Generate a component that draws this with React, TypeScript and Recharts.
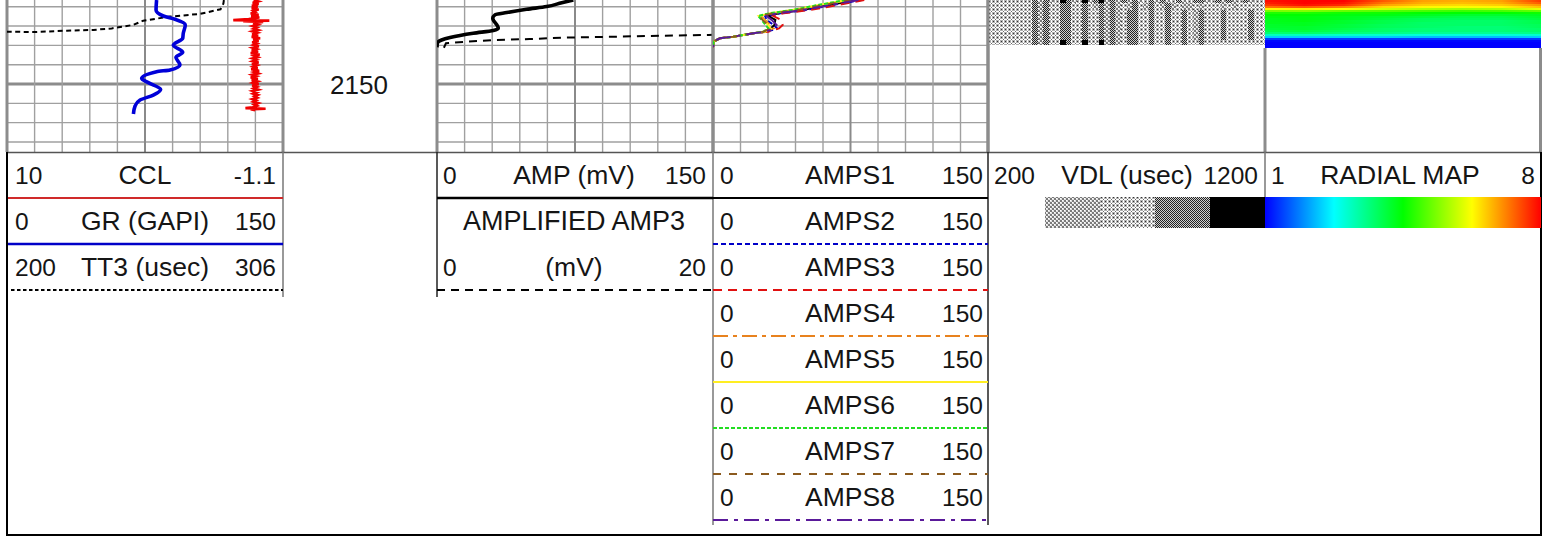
import React from "react";
import { LineChart, Line, XAxis, YAxis, ReferenceLine, BarChart, Bar, Cell } from "recharts";

// ---------- depth window and grid ----------
const depthDomain: [number, number] = [2106.5, 2185.2];
const depthGrid = [2110, 2120, 2130, 2140, 2150, 2160, 2170, 2180];
const divisionGrid = [1, 2, 3, 4, 5, 6, 7, 8, 9];

// ---------- track 1 ----------
const grDepth = [2106.5, 2111.7, 2114.8, 2116.5, 2119.4, 2123.7, 2126.3, 2129.8, 2133.6, 2136.2, 2140.2, 2142.7, 2143.6, 2147.1, 2149.3, 2152.8, 2155.7, 2158.3, 2161.4, 2165.5];
const grValue = [81.3, 81.0, 85.0, 91.3, 96.9, 95.8, 95.5, 90.4, 95.5, 91.8, 94.0, 88.6, 81.3, 73.2, 76.8, 83.5, 79.5, 72.3, 69.6, 68.7];
const ttDepth = [2106.5, 2108.4, 2111.3, 2113.7, 2115.1, 2117.2, 2119.4, 2121.2, 2122.0, 2122.4, 2123.1, 2122.9];
const ttValue = [283.3, 283.1, 282.0, 274.1, 262.6, 252.3, 248.5, 240.2, 233.2, 222.9, 210.1, 200];
const cclDepth = [2106.5, 2107.2, 2107.9, 2108.6, 2109.3, 2110.0, 2110.7, 2111.4, 2112.1, 2112.8, 2113.5, 2114.2, 2114.9, 2115.6, 2116.3, 2116.9, 2117.2, 2117.5, 2117.9, 2118.6, 2119.3, 2120.0, 2120.7, 2121.4, 2122.1, 2122.8, 2123.5, 2124.2, 2124.9, 2125.6, 2126.3, 2127.0, 2127.7, 2128.4, 2129.1, 2129.8, 2130.5, 2131.2, 2131.9, 2132.6, 2133.3, 2134.0, 2134.7, 2135.4, 2136.1, 2136.8, 2137.5, 2138.2, 2138.9, 2139.6, 2140.3, 2141.0, 2141.7, 2142.4, 2143.1, 2143.8, 2144.5, 2145.2, 2145.9, 2146.6, 2147.3, 2148.0, 2148.7, 2149.4, 2150.1, 2150.8, 2151.5, 2152.2, 2152.9, 2153.6, 2154.3, 2155.0, 2155.7, 2156.4, 2157.1, 2157.8, 2158.5, 2159.2, 2159.9, 2160.6, 2161.3, 2162.0, 2162.5, 2162.8, 2163.1, 2163.6];
const cclValue = [0.08, -0.1, 0.12, -0.12, 0.15, -0.08, 0.16, -0.12, 0.1, 0.02, 0.2, -0.12, 0.18, -0.15, 0.28, 0.9, -0.55, 0.5, -0.3, 0.1, -0.08, 0.12, -0.05, 0.08, -0.1, 0.13, -0.06, 0.14, -0.1, 0.16, -0.18, 0.1, -0.12, 0.14, -0.05, 0.08, -0.13, 0.12, -0.04, 0.16, -0.1, 0.2, -0.16, 0.06, -0.08, 0.13, -0.03, 0.12, -0.12, 0.15, -0.05, 0.1, -0.08, 0.18, -0.14, 0.06, -0.1, 0.14, -0.02, 0.2, -0.09, 0.16, -0.07, 0.1, -0.12, 0.14, -0.05, 0.08, -0.1, 0.12, -0.04, 0.1, -0.08, 0.05, -0.06, 0.13, -0.02, 0.09, -0.1, 0.06, -0.05, 0.12, 0.41, -0.4, 0.2, 0.02];

// ---------- track 2 ----------
const ampDepth = [2106.5, 2107.9, 2109.9, 2111.3, 2113.0, 2114.2, 2115.9, 2121.1, 2122.3, 2123.7, 2125.9, 2127.2, 2128.9, 2131.0];
const ampValue = [74.1, 67.8, 59.6, 48.7, 37.9, 31.5, 30.3, 33.3, 30.6, 19.7, 7.1, 2.5, 0.2, 0];
const amp3Depth = [2131.2, 2128.9, 2128.2, 2127.2, 2126.7, 2126.0, 2125.5, 2125.0, 2124.6, 2124.5];
const amp3Value = [0.5, 0.65, 1.9, 4.3, 6.7, 9.2, 12.8, 16.4, 19.7, 20];

// ---------- track 3 ----------
const ampsDepth = [2106.5, 2109.0, 2111.7, 2113.4, 2114.8, 2116.8, 2119.4, 2121.2, 2122.9, 2123.7, 2125.5, 2126.3, 2128.0, 2131.0];
const amps1 = [78.4, 64.2, 48.6, 36.0, 30.2, 34.0, 33.5, 31.5, 28.4, 22.0, 11.1, 3.8, 0.4, 0];
const amps2 = [81.1, 66.0, 50.4, 36.5, 28.4, 29.3, 33.0, 35.0, 29.3, 22.0, 11.1, 3.8, 0.4, 0];
const amps3 = [82.5, 69.0, 52.4, 38.5, 33.0, 37.0, 38.0, 36.0, 30.2, 22.0, 11.1, 3.8, 0.4, 0];
const amps4 = [74.2, 59.6, 44.2, 32.0, 26.0, 28.4, 31.1, 33.0, 28.4, 22.0, 11.1, 3.8, 0.4, 0];
const amps5 = [73.0, 58.6, 43.2, 31.5, 25.0, 27.5, 30.0, 31.5, 28.4, 22.0, 11.1, 3.8, 0.4, 0];
const amps6 = [72.4, 57.8, 43.0, 30.6, 24.6, 26.5, 28.6, 30.2, 27.5, 22.0, 11.1, 3.8, 0.4, 0];
const amps7 = [75.6, 61.1, 46.0, 32.9, 25.2, 27.0, 30.2, 31.1, 27.5, 22.0, 11.1, 3.8, 0.4, 0];
const amps8 = [79.3, 64.7, 49.3, 35.0, 29.3, 32.0, 34.7, 32.9, 28.9, 22.0, 11.1, 3.8, 0.4, 0];
const ampsSeries = [amps1, amps2, amps3, amps4, amps5, amps6, amps7, amps8];
const ampsColors = ["#000000", "#0000c8", "#e01010", "#e8821e", "#ffee22", "#22dd22", "#8b5a1e", "#5a1a9a"];
const ampsDashes = [undefined, "5 3", "9 6", "15 5 4 5", undefined, "4 2", "8 8", "15 6 4 6"];

// ---------- track 4: variable density raster ----------
const vdlRowThickness = [1.6, 3.6, 15.5, 2.6];
const vdlRow0 = [2,2,2,2,2,2,2,2,3,1,3,1,2,4,3,1,2,4,1,3,4,1,3,1,3,1,3,1,2,3,1,3,1,2,3,1,2,3,3,1,2,3,1,3,1,2,3,1,2,2];
const vdlRow1 = [2,2,2,2,2,2,2,2,3,1,3,2,2,3,3,2,2,3,2,1,3,1,3,1,2,1,3,2,1,3,2,1,3,1,2,1,1,2,1,2,2,2,1,2,1,2,2,2,2,2];
const vdlRow2 = [2,2,2,2,2,2,2,2,3,1,3,2,2,3,3,2,2,3,2,2,3,1,3,1,2,3,3,2,2,3,2,2,3,2,2,3,2,1,3,2,2,2,3,2,2,2,2,3,2,2];
const vdlRow3 = [2,2,2,2,2,2,2,2,3,1,3,2,2,4,3,2,2,4,2,2,4,1,3,1,2,3,3,2,2,3,2,2,3,2,2,3,2,2,3,2,2,2,2,2,2,2,2,2,2,2];
const vdlRows = [vdlRow0, vdlRow1, vdlRow2, vdlRow3];
const vdlTable = vdlRow0.map((_, i) => ({ bin: i, r0: vdlRowThickness[0], r1: vdlRowThickness[1], r2: vdlRowThickness[2], r3: vdlRowThickness[3] }));
const vdlFills = ["#ffffff", "url(#vdl1)", "url(#vdl2)", "url(#vdl3)", "#000000"];

// ---------- track 5: radial map, one row of azimuth samples per depth step ----------
const radialRows = [
  [7.9, 8, 8, 7.4, 6.9, 6.8, 6.9, 7.6],
  [7.8, 8, 7.9, 7.2, 6.8, 6.7, 6.8, 7.4],
  [7.6, 7.9, 7.7, 6.9, 6.6, 6.5, 6.6, 7.0],
  [7.2, 7.4, 7.1, 6.5, 6.3, 6.2, 6.3, 6.7],
  [6.3, 6.4, 6.3, 5.9, 5.7, 5.6, 5.7, 6.1],
  [5.3, 5.4, 5.2, 5.1, 5.0, 4.9, 5.0, 5.2],
  [4.7, 4.7, 4.6, 4.6, 4.5, 4.5, 4.5, 4.6],
  [4.5, 4.5, 4.4, 4.4, 4.3, 4.2, 4.2, 4.3],
  [4.4, 4.4, 4.3, 4.2, 4.1, 4.0, 4.0, 4.2],
  [4.3, 4.4, 4.3, 4.1, 3.9, 3.9, 3.9, 4.1],
  [4.3, 4.4, 4.2, 4.0, 3.9, 3.8, 3.8, 4.0],
  [4.3, 4.3, 4.2, 4.0, 3.8, 3.8, 3.8, 4.0],
  [4.2, 4.3, 4.1, 3.9, 3.8, 3.8, 3.8, 3.9],
  [4.2, 4.2, 4.1, 3.9, 3.8, 3.7, 3.7, 3.9],
  [4.1, 4.2, 4.0, 3.8, 3.7, 3.7, 3.7, 3.8],
  [4.0, 4.1, 3.9, 3.8, 3.7, 3.7, 3.7, 3.8],
  [3.7, 3.8, 3.7, 3.6, 3.5, 3.5, 3.5, 3.6],
  [3.2, 3.2, 3.1, 3.1, 3.0, 3.0, 3.0, 3.1],
  [2.4, 2.4, 2.4, 2.4, 2.3, 2.3, 2.3, 2.4],
  [1.4, 1.4, 1.4, 1.4, 1.4, 1.4, 1.4, 1.4],
  [1.05, 1.05, 1.05, 1.05, 1.05, 1.05, 1.05, 1.05],
  [1, 1, 1, 1, 1, 1, 1, 1],
  [1, 1, 1, 1, 1, 1, 1, 1],
  [1, 1, 1, 1, 1, 1, 1, 1],
];
const radialTable = radialRows.map((_, i) => ({ row: i, span: 360 }));
const rampStops = [{ v: 1, c: [0, 0, 255] }, { v: 2.75, c: [0, 255, 255] }, { v: 4.5, c: [0, 255, 0] }, { v: 6.25, c: [255, 255, 0] }, { v: 8, c: [255, 0, 0] }];
function colorOf(v: number) {
  for (let i = 0; i < rampStops.length - 1; i++) {
    const a = rampStops[i], b = rampStops[i + 1];
    if (v <= b.v) {
      const t = (v - a.v) / (b.v - a.v);
      const m = a.c.map((x, k) => Math.round(x + (b.c[k] - x) * t));
      return `rgb(${m[0]},${m[1]},${m[2]})`;
    }
  }
  return "rgb(255,0,0)";
}

// ---------- header texts ----------
const track1Header = [["10", "CCL", "-1.1"], ["0", "GR (GAPI)", "150"], ["200", "TT3 (usec)", "306"]];
const track2Header = [["0", "AMP (mV)", "150"], ["", "AMPLIFIED AMP3", ""], ["0", "(mV)", "20"]];
const track3Header = [["0", "AMPS1", "150"], ["0", "AMPS2", "150"], ["0", "AMPS3", "150"], ["0", "AMPS4", "150"], ["0", "AMPS5", "150"], ["0", "AMPS6", "150"], ["0", "AMPS7", "150"], ["0", "AMPS8", "150"]];
const track4Header = [["200", "VDL (usec)", "1200"]];
const track5Header = [["1", "RADIAL MAP", "8"]];
const depthLabel = "2150";

const zip = (d: number[], v: number[]) => d.map((depth, i) => ({ depth, value: v[i] }));

const FONT = '"Liberation Sans", Arial, sans-serif';
const GRID = "#a0a0a0";
const MAJOR = "#8c8c8c";
const PAD = 3;
const CH = 152;

function Track({ left, width, children, axes }: any) {
  return (
    <div style={{ position: "absolute", left: left - PAD, top: 0 }}>
      <LineChart layout="vertical" width={width + PAD * 2} height={CH} margin={{ left: PAD, right: PAD, top: 0, bottom: 0 }}>
        <XAxis xAxisId="grid" type="number" domain={[0, 10]} hide allowDataOverflow />
        {axes}
        <YAxis type="number" dataKey="depth" domain={depthDomain} hide allowDataOverflow />
        {depthGrid.map((d) => (
          <ReferenceLine key={d} xAxisId="grid" y={d} stroke={d === 2150 ? MAJOR : GRID} strokeWidth={d === 2150 ? 3 : 1.4} />
        ))}
        {divisionGrid.map((d) => (
          <ReferenceLine key={d} xAxisId="grid" x={d} stroke={d === 5 ? "#8a8a8a" : GRID} strokeWidth={d === 5 ? 2 : 1.4} />
        ))}
        <ReferenceLine xAxisId="grid" x={0} stroke={MAJOR} strokeWidth={3} />
        <ReferenceLine xAxisId="grid" x={10} stroke={MAJOR} strokeWidth={3} />
        {children}
      </LineChart>
    </div>
  );
}

const numAxis = (id: string, domain: number[], reversed = false) => (
  <XAxis key={id} xAxisId={id} type="number" domain={domain} reversed={reversed} hide allowDataOverflow />
);

function Patterns() {
  return (
    <defs>
      <pattern id="vdl1" width="4" height="4" patternUnits="userSpaceOnUse">
        <rect width="4" height="4" fill="#e0e0e0" />
        <rect x="0" y="0" width="2" height="2" fill="#7a7a7a" />
        <rect x="2" y="2" width="2" height="2" fill="#7a7a7a" />
        <rect x="2" y="0" width="1" height="1" fill="#ffffff" />
        <rect x="0" y="2" width="1" height="1" fill="#ffffff" />
      </pattern>
      <pattern id="vdl2" width="4" height="4" patternUnits="userSpaceOnUse">
        <rect width="4" height="4" fill="#b0b0b0" />
        <rect x="3" y="0" width="1" height="4" fill="#ffffff" />
        <rect x="0" y="3" width="4" height="1" fill="#ffffff" />
        <rect x="1" y="1" width="1" height="1" fill="#333" />
        <rect x="3" y="3" width="1" height="1" fill="#666" />
      </pattern>
      <pattern id="vdl3" width="2" height="2" patternUnits="userSpaceOnUse">
        <rect width="2" height="2" fill="#cfcfcf" />
        <rect x="0" y="0" width="1" height="1" fill="#222" />
        <rect x="1" y="1" width="1" height="1" fill="#222" />
      </pattern>
      <linearGradient id="radialRamp" x1="0" x2="1" y1="0" y2="0">
        {rampStops.map((s, i) => (
          <stop key={i} offset={`${(i * 100) / (rampStops.length - 1)}%`} stopColor={colorOf(s.v)} />
        ))}
      </linearGradient>
    </defs>
  );
}

function Row({ x0, cx, x1, y, cells, size = 26.5 }: any) {
  const common = { y, fontFamily: FONT, fill: "#151515", dominantBaseline: "central" as const };
  return (
    <g>
      <text {...common} fontSize={24.5} x={x0} textAnchor="start">{cells[0]}</text>
      <text {...common} fontSize={size} x={cx} textAnchor="middle">{cells[1]}</text>
      <text {...common} fontSize={24.5} x={x1} textAnchor="end">{cells[2]}</text>
    </g>
  );
}

const rowY = (i: number) => 175 + i * 46;

function Overlay() {
  const ruleY = (i: number) => 198 + i * 46;
  return (
    <svg width={1554} height={537} style={{ position: "absolute", left: 0, top: 0 }}>
      <Patterns />
      <line x1={988} x2={988} y1={0} y2={152} stroke={MAJOR} strokeWidth={3} />
      <line x1={1265} x2={1265} y1={48} y2={152} stroke={MAJOR} strokeWidth={3} />
      <line x1={1540.5} x2={1540.5} y1={48} y2={152} stroke={MAJOR} strokeWidth={3} />
      <line x1={7} x2={1541} y1={152.5} y2={152.5} stroke="#555" strokeWidth={1.5} />
      <line x1={7} x2={7} y1={152} y2={536} stroke="#000" strokeWidth={2} />
      <line x1={6} x2={1542} y1={535} y2={535} stroke="#000" strokeWidth={2} />
      <line x1={1541} x2={1541} y1={152} y2={536} stroke="#000" strokeWidth={2} />
      <line x1={283} x2={283} y1={152} y2={297} stroke="#777" strokeWidth={1.5} />
      <line x1={437} x2={437} y1={152} y2={297} stroke="#222" strokeWidth={1.5} />
      <line x1={713} x2={713} y1={152} y2={525} stroke="#777" strokeWidth={1.5} />
      <line x1={988} x2={988} y1={152} y2={525} stroke="#222" strokeWidth={1.5} />
      <line x1={1265} x2={1265} y1={152} y2={198} stroke="#777" strokeWidth={1.5} />
      <line x1={8} x2={283} y1={ruleY(0)} y2={ruleY(0)} stroke="#d02a2a" strokeWidth={2} />
      <line x1={8} x2={283} y1={ruleY(1)} y2={ruleY(1)} stroke="#0000c8" strokeWidth={2.5} />
      <line x1={11} x2={283} y1={ruleY(2)} y2={ruleY(2)} stroke="#000" strokeWidth={2} strokeDasharray="3.5 2.5" />
      <line x1={437} x2={713} y1={ruleY(0)} y2={ruleY(0)} stroke="#000" strokeWidth={2.5} />
      <line x1={437} x2={713} y1={ruleY(2)} y2={ruleY(2)} stroke="#000" strokeWidth={2} strokeDasharray="8 6" />
      {ampsColors.map((c, i) => (
        <line key={i} x1={713} x2={988} y1={ruleY(i)} y2={ruleY(i)} stroke={c} strokeWidth={2} strokeDasharray={ampsDashes[i]} />
      ))}
      {[1, 2, 3, 4].map((lvl, i) => (
        <rect key={lvl} x={1045 + i * 55} y={197} width={55} height={31} fill={vdlFills[lvl]} shapeRendering="crispEdges" />
      ))}
      <rect x={1265} y={197} width={276} height={31} fill="url(#radialRamp)" />
      <text x={359} y={85} fontFamily={FONT} fontSize={26} fill="#151515" textAnchor="middle" dominantBaseline="central">{depthLabel}</text>
      {track1Header.map((c, i) => <Row key={i} x0={15} cx={145} x1={276} y={rowY(i)} cells={c} />)}
      {track2Header.map((c, i) => <Row key={i} x0={443} cx={574} x1={706} y={rowY(i)} cells={c} size={i === 1 ? 27 : 26.5} />)}
      {track3Header.map((c, i) => <Row key={i} x0={720} cx={850} x1={983} y={rowY(i)} cells={c} />)}
      {track4Header.map((c, i) => <Row key={i} x0={994} cx={1127} x1={1258} y={rowY(i)} cells={c} />)}
      {track5Header.map((c, i) => <Row key={i} x0={1271} cx={1400} x1={1535} y={rowY(i)} cells={c} />)}
    </svg>
  );
}

export default function App() {
  return (
    <div style={{ position: "absolute", left: 0, top: 0, width: 1554, height: 537, background: "#fff", overflow: "hidden" }}>
      <Track left={7} width={276} axes={[numAxis("gr", [0, 150]), numAxis("tt", [200, 306]), numAxis("ccl", [-1.1, 10], true)]}>
        <Line xAxisId="tt" data={zip(ttDepth, ttValue)} dataKey="value" stroke="#000" strokeWidth={2} strokeDasharray="5 3.5" dot={false} isAnimationActive={false} />
        <Line xAxisId="ccl" data={zip(cclDepth, cclValue)} dataKey="value" stroke="#f00000" strokeWidth={2.6} dot={false} isAnimationActive={false} />
        <Line xAxisId="gr" data={zip(grDepth, grValue)} dataKey="value" type="monotoneY" stroke="#0000d8" strokeWidth={3.6} dot={false} isAnimationActive={false} />
      </Track>

      <Track left={437} width={276} axes={[numAxis("amp", [0, 150]), numAxis("amp3", [0, 20])]}>
        <Line xAxisId="amp3" data={zip(amp3Depth, amp3Value)} dataKey="value" stroke="#000" strokeWidth={2} strokeDasharray="8 6" dot={false} isAnimationActive={false} />
        <Line xAxisId="amp" data={zip(ampDepth, ampValue)} dataKey="value" type="monotoneY" stroke="#000" strokeWidth={3.6} dot={false} isAnimationActive={false} />
      </Track>

      <Track left={713} width={275} axes={[numAxis("amps", [0, 150])]}>
        {ampsSeries.map((s, i) => (
          <Line key={i} xAxisId="amps" data={zip(ampsDepth, s)} dataKey="value" stroke={ampsColors[i]} strokeWidth={2} strokeDasharray={ampsDashes[i]} dot={false} isAnimationActive={false} />
        ))}
      </Track>

      <div style={{ position: "absolute", left: 988, top: 0 }}>
        <BarChart width={277} height={CH} data={vdlTable} barCategoryGap={0} margin={{ left: 0, right: 0, top: 0, bottom: 0 }}>
          <Patterns />
          <XAxis type="category" dataKey="bin" hide />
          <YAxis type="number" domain={[0, depthDomain[1] - depthDomain[0]]} reversed hide />
          {vdlRows.map((row, r) => (
            <Bar key={r} dataKey={`r${r}`} stackId="vdl" isAnimationActive={false} shapeRendering="crispEdges">
              {row.map((lvl, i) => <Cell key={i} fill={vdlFills[lvl]} />)}
            </Bar>
          ))}
        </BarChart>
      </div>

      <div style={{ position: "absolute", left: 1265, top: 0 }}>
        <BarChart layout="vertical" width={276} height={48} data={radialTable} barCategoryGap={0} margin={{ left: 0, right: 0, top: 0, bottom: 0 }}>
          <defs>
            {radialRows.map((row, r) => (
              <linearGradient key={r} id={`rad${r}`} x1="0" x2="1" y1="0" y2="0">
                {row.map((v, i) => <stop key={i} offset={`${(i * 100) / (row.length - 1)}%`} stopColor={colorOf(v)} />)}
              </linearGradient>
            ))}
          </defs>
          <XAxis type="number" domain={[0, 360]} hide />
          <YAxis type="category" dataKey="row" hide />
          <Bar dataKey="span" isAnimationActive={false} shapeRendering="crispEdges">
            {radialRows.map((_, r) => <Cell key={r} fill={`url(#rad${r})`} />)}
          </Bar>
        </BarChart>
      </div>

      <Overlay />
    </div>
  );
}
